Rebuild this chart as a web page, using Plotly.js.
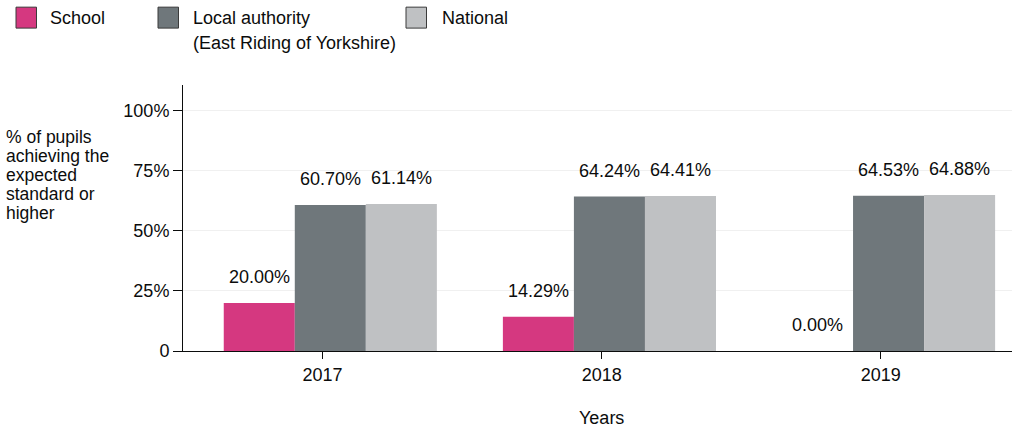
<!DOCTYPE html>
<html>
<head>
<meta charset="utf-8">
<script src="https://cdn.plot.ly/plotly-3.0.1.min.js"></script>
<style>
  html, body { margin: 0; padding: 0; background: #fff; }
  #chart { width: 1012px; height: 430px; }
</style>
</head>
<body>
<div id="chart"></div>
<script>
// ---- data ----
const years = ['2017', '2018', '2019'];
const schoolValues = [20.00, 14.29, 0.00];
const localAuthorityValues = [60.70, 64.24, 64.53];
const nationalValues = [61.14, 64.41, 64.88];
const seriesNames = ['School', 'Local authority', 'National'];
const legendSubtitle = '(East Riding of Yorkshire)';
const yTickValues = [0, 25, 50, 75, 100];
const yTickLabels = ['0', '25%', '50%', '75%', '100%'];
const yTitleLines = ['% of pupils', 'achieving the', 'expected', 'standard or', 'higher'];
const xTitle = 'Years';

// ---- style ----
const colors = ['#d53880', '#6f777b', '#bfc1c3'];
const textColor = '#0b0c0c';
const fontFamily = 'Liberation Sans, Arial, sans-serif';
const barWidth = 0.2545;
const barOffsets = [-0.354, -0.0995, 0.155];

const seriesValues = [schoolValues, localAuthorityValues, nationalValues];

const traces = seriesValues.map((vals, i) => ({
  type: 'bar',
  x: years,
  y: vals,
  name: seriesNames[i],
  width: barWidth,
  offset: barOffsets[i],
  marker: { color: colors[i], line: { width: 0 } },
  hoverinfo: 'skip',
  showlegend: false
}));

// plot area in pixels
const M = { l: 183, r: 0, t: 85, b: 78.5 };
const plotH = 430 - M.t - M.b;
const py = (pix) => (430 - M.b - pix) / plotH;   // pixel y -> paper y
const plotW = 1012 - M.l - M.r;
const px = (pix) => (pix - M.l) / plotW;          // pixel x -> paper x

const annotations = [];

// value labels above each bar
seriesValues.forEach((vals, i) => {
  vals.forEach((v, j) => {
    annotations.push({
      xref: 'x', yref: 'y',
      x: j + barOffsets[i] + barWidth / 2,
      y: v,
      yshift: 26,
      xanchor: 'center', yanchor: 'middle',
      text: v.toFixed(2) + '%',
      showarrow: false,
      font: { family: fontFamily, size: 18, color: textColor }
    });
  });
});

// y-axis title (horizontal, stacked lines)
const yTitleCenters = [137, 156, 175, 194, 213];
yTitleLines.forEach((line, k) => {
  annotations.push({
    xref: 'paper', yref: 'paper',
    x: px(4), y: py(yTitleCenters[k]),
    xanchor: 'left', yanchor: 'middle',
    text: line, showarrow: false,
    font: { family: fontFamily, size: 17.5, color: textColor }
  });
});

// x-axis title
annotations.push({
  xref: 'paper', yref: 'paper',
  x: px(601.7), y: py(419),
  xanchor: 'center', yanchor: 'middle',
  text: xTitle, showarrow: false,
  font: { family: fontFamily, size: 18, color: textColor }
});

// custom legend
const legendSquareX = [16, 158, 406];
const legendTextX = [48, 191, 440];
const shapes = [];
seriesNames.forEach((name, i) => {
  shapes.push({
    type: 'rect', xref: 'paper', yref: 'paper',
    x0: px(legendSquareX[i]), x1: px(legendSquareX[i] + 20.5),
    y0: py(7), y1: py(28),
    fillcolor: colors[i],
    line: { color: '#3b3b3b', width: 1 }
  });
  annotations.push({
    xref: 'paper', yref: 'paper',
    x: px(legendTextX[i]), y: py(17.5),
    xanchor: 'left', yanchor: 'middle',
    text: name, showarrow: false,
    font: { family: fontFamily, size: 18, color: textColor }
  });
});
annotations.push({
  xref: 'paper', yref: 'paper',
  x: px(legendTextX[1]), y: py(42.5),
  xanchor: 'left', yanchor: 'middle',
  text: legendSubtitle, showarrow: false,
  font: { family: fontFamily, size: 18, color: textColor }
});

const layout = {
  width: 1012, height: 430,
  margin: M,
  paper_bgcolor: '#ffffff', plot_bgcolor: '#ffffff',
  barmode: 'overlay',
  showlegend: false,
  font: { family: fontFamily, size: 18, color: textColor },
  xaxis: {
    type: 'category',
    range: [-0.5, 2.47],
    showline: true, linecolor: '#0b0c0c', linewidth: 1,
    ticks: 'outside', ticklen: 7, tickcolor: '#0b0c0c', tickwidth: 1,
    showgrid: false, zeroline: false,
    tickfont: { family: fontFamily, size: 18, color: textColor },
    fixedrange: true
  },
  yaxis: {
    range: [0, 110.6],
    tickvals: yTickValues, ticktext: yTickLabels,
    showline: true, linecolor: '#0b0c0c', linewidth: 1,
    ticks: 'outside', ticklen: 9, tickcolor: '#0b0c0c', tickwidth: 1,
    showgrid: true, gridcolor: '#f0f0f0', gridwidth: 1,
    zeroline: false,
    tickfont: { family: fontFamily, size: 18, color: textColor },
    fixedrange: true
  },
  annotations: annotations,
  shapes: shapes
};

Plotly.newPlot('chart', traces, layout, { displayModeBar: false, staticPlot: true });
</script>
</body>
</html>
